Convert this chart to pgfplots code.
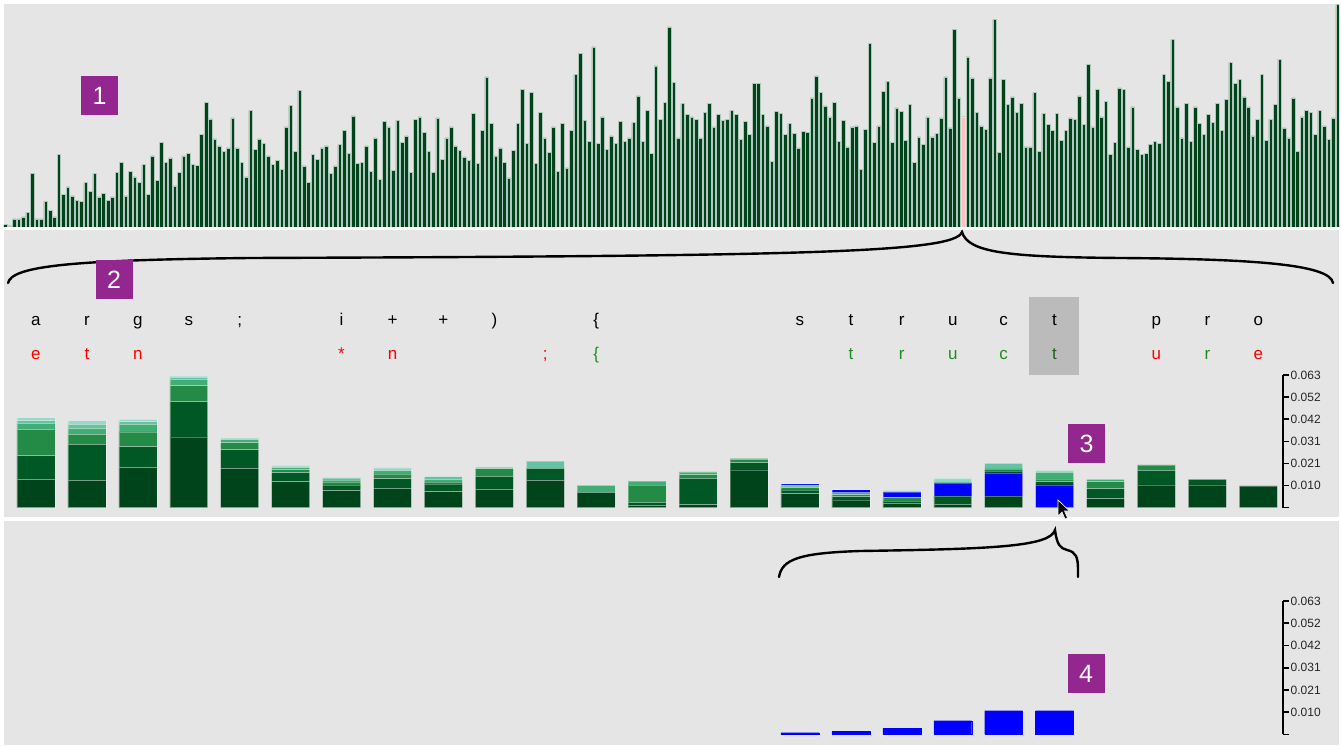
\documentclass[border=0pt]{standalone}
\usepackage{pgfplots}
\pgfplotsset{compat=1.18}
\usepackage{pgfplotstable}
\usepackage{fontspec}
\setmainfont{Liberation Sans}

\definecolor{panel}{HTML}{E5E5E5}
\definecolor{tag}{HTML}{93278F}
\definecolor{gD}{HTML}{00441B}
\definecolor{gK}{HTML}{005824}
\definecolor{gM}{HTML}{238B45}
\definecolor{gL}{HTML}{41AE76}
\definecolor{gLr}{HTML}{66C2A4}
\definecolor{gLt}{HTML}{99D8C9}
\definecolor{hit}{HTML}{0000FF}
\definecolor{ok}{HTML}{228B22}
\definecolor{okdark}{HTML}{1E5E1E}
\definecolor{miss}{HTML}{FF0000}
\definecolor{sel}{HTML}{BBBBBB}

% stacked probabilities per character (bar heights, px of a 0.063 scale)
% D..Lt: shades from dark to light, Ba..Be: the selected char (blue) at its place in the stack
\pgfplotstableread{
x  D    Ba   K    Bb   M    Bc   L    Bd   Lr   Be   Lt
1  28.3 0    23.7 0    26.3 0    6    0    2.7  0    3
2  27.3 0    36   0    10   0    6    0    4    0    3.7
3  40.3 0    20.7 0    14.7 0    7.7  0    2.7  0    2.3
4  70.7 0    35.3 0    16   0    6.3  0    2    0    1.3
5  39.3 0    18.7 0    7    0    3    0    1.3  0    0
6  26   0    9    0    3    0    2    0    1.3  0    1
7  17   0    5.7  0    3    0    2    0    2    0    0
8  19.3 0    9.7  0    4.7  0    3.3  0    1.7  0    1
9  16   0    7.7  0    2    0    2.7  0    2.7  0    0
10 18.3 0    13   0    7.7  0    0    0    0    0    2
11 27.3 0    12   0    0    0    0    0    7.3  0    0
12 15.3 0    0    0    0    0    7    0    0    0    0
13 2.3  0    3    0    17.3 0    4    0    0    0    0
14 3    0    26.3 0    3.7  0    2.7  0    0    0    0
15 37.7 0    7.3  0    3.3  0    1    0    0    0    0
16 14   0    3.7  0    2.3  0    1.7  0    1    1.3  0
17 7.7  0    3.3  0    2    0    2    3    0    0    0
18 4.3  0    2.3  0    3.7  5.3  0    0    0    0    1.7
19 3.3  0    8.3  13   0    0    0    0    2.3  0    2.3
20 11.7 23   2    0    2    0    0    0    5.7  0    0
21 0    22.7 3.3  0    2.7  0    6.7  0    0    0    2
22 9    0    10   0    7    0    2.3  0    0    0    0
23 22.7 0    14.7 0    5.3  0    0    0    0    0    0
24 22.7 0    5.7  0    0    0    0    0    0    0    0
25 21.7 0    0    0    0    0    0    0    0    0    0
}\stacks

\pgfplotstableread{
x  P
16 1.7
17 3
18 6
19 13.7
20 23.7
21 23.7
}\picked

\pgfplotsset{
  probaxis/.style={
    anchor=south west, scale only axis,
    width=1272.5pt,
    xmin=0.5, xmax=25.485, ymin=0,
    enlargelimits=false, clip=false,
    axis x line=none, axis y line*=right, xtick=\empty,
    yticklabel pos=right, tick align=outside,
    major tick length=6pt,
    y axis line style={line width=1.6pt, black},
    ytick style={line width=1.6pt, black},
    yticklabel style={font=\fontsize{12}{12}\selectfont, text=black!85, inner sep=1.5pt},
    yticklabels={,0.010,0.021,0.031,0.042,0.052,0.063},
  },
  seg/.style={fill=#1, draw=white, draw opacity=0.3, line width=0.5pt},
}
\tikzset{ch/.style={anchor=base, inner sep=0pt, font=\fontsize{17}{17}\selectfont, text=#1}}

\begin{document}
\begin{tikzpicture}[x=1pt,y=1pt]
\fill[white] (0,0) rectangle (1341,745);
\fill[panel] (4,518) rectangle (1339,741);
\fill[panel] (4,228) rectangle (1339,515);
\fill[panel] (4,0) rectangle (1339,224);
\fill[sel] (1029,370) rectangle (1079,448);

% panel 1: whole sequence
\begin{axis}[at={(4pt,518pt)}, anchor=south west, scale only axis,
  width=1335pt, height=223pt,
  xmin=0.663, xmax=300.32, ymin=0, ymax=669,
  enlargelimits=false, axis lines=none, xtick=\empty, ytick=\empty]
\addplot[ybar, bar width=0.8, bar shift=0pt, fill=gD, draw=white!70!gD, line width=0.5pt]
coordinates {
(1,7)(2,3)(3,24)(4,24)(5,30)(6,44)(7,160)(8,24)(9,24)(10,77)
(11,50)(12,30)(13,218)(14,97)(15,120)(16,93)(17,80)(18,76)(19,133)(20,107)
(21,160)(22,90)(23,100)(24,80)(25,90)(26,163)(27,193)(28,93)(29,166)(30,150)
(31,133)(32,187)(33,97)(34,213)(35,140)(36,254)(37,193)(38,207)(39,123)(40,163)
(41,213)(42,220)(43,187)(44,184)(45,277)(46,374)(47,324)(48,264)(49,243)(50,227)
(51,237)(52,327)(53,237)(54,193)(55,150)(56,350)(57,233)(58,264)(59,250)(60,213)
(61,187)(62,200)(63,173)(64,300)(65,364)(66,227)(67,410)(68,183)(69,133)(70,217)
(71,203)(72,237)(73,243)(74,160)(75,183)(76,247)(77,290)(78,220)(79,333)(80,190)
(81,193)(82,243)(83,167)(84,267)(85,143)(86,317)(87,300)(88,170)(89,320)(90,253)
(91,273)(92,163)(93,323)(94,330)(95,283)(96,227)(97,163)(98,327)(99,203)(100,267)
(101,300)(102,243)(103,230)(104,210)(105,200)(106,340)(107,190)(108,290)(109,450)(110,310)
(111,213)(112,237)(113,193)(114,147)(115,230)(116,310)(117,413)(118,250)(119,403)(120,190)
(121,343)(122,267)(123,223)(124,300)(125,167)(126,310)(127,177)(128,290)(129,457)(130,520)
(131,320)(132,257)(133,540)(134,250)(135,330)(136,233)(137,273)(138,250)(139,317)(140,257)
(141,267)(142,313)(143,393)(144,257)(145,350)(146,220)(147,483)(148,323)(149,373)(150,600)
(151,433)(152,267)(153,370)(154,337)(155,330)(156,323)(157,267)(158,343)(159,370)(160,300)
(161,337)(162,320)(163,323)(164,350)(165,337)(166,263)(167,317)(168,277)(169,430)(170,430)
(171,337)(172,303)(173,197)(174,347)(175,340)(176,277)(177,310)(178,280)(179,237)(180,287)
(181,283)(182,387)(183,453)(184,403)(185,363)(186,330)(187,373)(188,257)(189,320)(190,240)
(191,300)(192,303)(193,173)(194,293)(195,550)(196,253)(197,303)(198,407)(199,437)(200,253)
(201,357)(202,347)(203,260)(204,367)(205,193)(206,270)(207,247)(208,330)(209,270)(210,280)
(211,327)(212,450)(213,297)(214,593)(215,387)(216,330)(217,510)(218,447)(219,343)(220,303)
(221,293)(222,447)(223,623)(224,223)(225,443)(226,367)(227,390)(228,343)(229,370)(230,240)
(231,240)(232,403)(233,227)(234,340)(235,307)(236,290)(237,340)(238,260)(239,290)(240,327)
(241,323)(242,393)(243,307)(244,487)(245,300)(246,413)(247,330)(248,377)(249,217)(250,253)
(251,417)(252,413)(253,240)(254,360)(255,233)(256,217)(257,220)(258,247)(259,257)(260,250)
(261,457)(262,437)(263,563)(264,360)(265,267)(266,370)(267,257)(268,360)(269,310)(270,277)
(271,337)(272,313)(273,370)(274,290)(275,383)(276,493)(277,430)(278,443)(279,390)(280,360)
(281,273)(282,323)(283,457)(284,260)(285,323)(286,367)(287,503)(288,297)(289,267)(290,387)
(291,227)(292,330)(293,350)(294,343)(295,277)(296,350)(297,303)(298,263)(299,327)(300,667)
};
\addplot[ybar, bar width=0.8, bar shift=0pt, fill=pink, draw=pink!60!white, line width=0.5pt]
coordinates {(216,330)};
\end{axis}

% panel 2/3: characters and stacked predictions
\begin{axis}[probaxis, at={(10.5pt,237.3pt)}, height=132.7pt, ymax=132.7,
  ytick={0,22.12,44.23,66.35,88.47,110.58,132.7},
  ybar stacked, bar width=0.745]
\addplot[seg=gD]  table[x=x,y=D]{\stacks};
\addplot[seg=hit] table[x=x,y=Ba]{\stacks};
\addplot[seg=gK]  table[x=x,y=K]{\stacks};
\addplot[seg=hit] table[x=x,y=Bb]{\stacks};
\addplot[seg=gM]  table[x=x,y=M]{\stacks};
\addplot[seg=hit] table[x=x,y=Bc]{\stacks};
\addplot[seg=gL]  table[x=x,y=L]{\stacks};
\addplot[seg=hit] table[x=x,y=Bd]{\stacks};
\addplot[seg=gLr] table[x=x,y=Lr]{\stacks};
\addplot[seg=hit] table[x=x,y=Be]{\stacks};
\addplot[seg=gLt] table[x=x,y=Lt]{\stacks};

\node[ch=black] at (axis cs:1,181.7) {a};
\node[ch=black] at (axis cs:2,181.7) {r};
\node[ch=black] at (axis cs:3,181.7) {g};
\node[ch=black] at (axis cs:4,181.7) {s};
\node[ch=black] at (axis cs:5,181.7) {;};
\node[ch=black] at (axis cs:7,181.7) {i};
\node[ch=black] at (axis cs:8,181.7) {+};
\node[ch=black] at (axis cs:9,181.7) {+};
\node[ch=black] at (axis cs:10,181.7) {)};
\node[ch=black] at (axis cs:12,181.7) {\{};
\node[ch=black] at (axis cs:16,181.7) {s};
\node[ch=black] at (axis cs:17,181.7) {t};
\node[ch=black] at (axis cs:18,181.7) {r};
\node[ch=black] at (axis cs:19,181.7) {u};
\node[ch=black] at (axis cs:20,181.7) {c};
\node[ch=black] at (axis cs:21,181.7) {t};
\node[ch=black] at (axis cs:23,181.7) {p};
\node[ch=black] at (axis cs:24,181.7) {r};
\node[ch=black] at (axis cs:25,181.7) {o};
\node[ch=miss] at (axis cs:1,147.7) {e};
\node[ch=miss] at (axis cs:2,147.7) {t};
\node[ch=miss] at (axis cs:3,147.7) {n};
\node[ch=miss] at (axis cs:7,147.7) {*};
\node[ch=miss] at (axis cs:8,147.7) {n};
\node[ch=miss] at (axis cs:11,147.7) {;};
\node[ch=ok]   at (axis cs:12,147.7) {\{};
\node[ch=ok]   at (axis cs:17,147.7) {t};
\node[ch=ok]   at (axis cs:18,147.7) {r};
\node[ch=ok]   at (axis cs:19,147.7) {u};
\node[ch=ok]   at (axis cs:20,147.7) {c};
\node[ch=okdark] at (axis cs:21,147.7) {t};
\node[ch=miss] at (axis cs:23,147.7) {u};
\node[ch=ok]   at (axis cs:24,147.7) {r};
\node[ch=miss] at (axis cs:25,147.7) {e};
\end{axis}

% panel 4: probability of the selected character along the word
\begin{axis}[probaxis, at={(10.5pt,10.6pt)}, height=133.4pt, ymax=133.4,
  ytick={0,22.23,44.47,66.7,88.93,111.17,133.4},
  ybar, bar width=0.745]
\addplot[ybar, bar shift=0pt, fill=hit, draw=hit, line width=0.4pt] table[x=x,y=P]{\picked};
\end{axis}

% braces
\draw[line width=2.4pt, line cap=round] (8,462) .. controls (12,479) and (70,485) .. (250,487)
  .. controls (800,489) and (955,492) .. (962,513)
  .. controls (968,492) and (1010,488) .. (1120,487)
  .. controls (1260,486) and (1330,480) .. (1333,462);
\draw[line width=2.4pt, line cap=round] (779,168) .. controls (782,186) and (800,192) .. (860,194)
  .. controls (990,196) and (1050,198) .. (1055,215)
  .. controls (1057,200) and (1060,197) .. (1067,195)
  .. controls (1076,193) and (1078,188) .. (1078,175) -- (1078,168);

% mouse pointer
\fill[black, draw=white, line width=0.6pt] (1058,245) -- (1058,229) -- (1062,233) -- (1065,226)
  -- (1067.5,227) -- (1064.5,234) -- (1069.5,234) -- cycle;

% numbered tags
\tikzset{tagbox/.style={fill=tag, text=white, minimum width=37pt, minimum height=39pt,
  inner sep=0pt, font=\fontsize{25}{25}\selectfont}}
\node[tagbox] at (99.5,649.5) {1};
\node[tagbox] at (114,465.5) {2};
\node[tagbox] at (1086.5,301.5) {3};
\node[tagbox] at (1086,71.5) {4};
\end{tikzpicture}
\end{document}
